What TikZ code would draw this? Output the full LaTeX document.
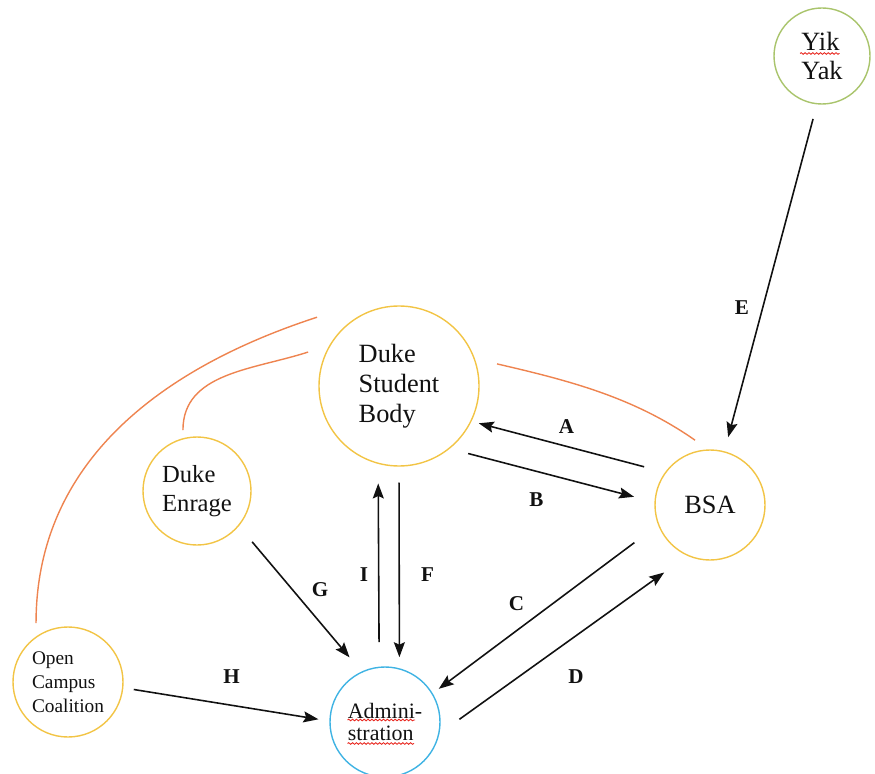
\documentclass[tikz,border=0pt]{standalone}
\usepackage{fontspec}
\setmainfont{Liberation Serif}
\usepackage{tikz}
\usetikzlibrary{arrows.meta, calc, decorations.pathmorphing}
\definecolor{ringyellow}{HTML}{F2C445}
\definecolor{ringblue}{HTML}{3FB3E3}
\definecolor{ringgreen}{HTML}{A9C46C}
\definecolor{tieorange}{HTML}{EE8450}
\definecolor{inkprimary}{HTML}{111111}
\definecolor{spellred}{HTML}{E8261E}

\begin{document}
\begin{tikzpicture}[
  party/.style={circle, draw=ringyellow, line width=0.8pt, align=left, inner sep=0pt, text=inkprimary},
  flow/.style={-{Stealth[length=3mm,width=2.2mm,inset=0.5mm]}, line width=0.9pt, inkprimary},
  tie/.style={draw=tieorange, line width=0.8pt},
  lbl/.style={font=\bfseries\fontsize{12}{14}\selectfont, text=inkprimary},
  spell/.style={draw=spellred, line width=0.5pt, decorate, decoration={snake, amplitude=0.45pt, segment length=2.2pt}}
]
\useasboundingbox (0,0) rectangle (17.5,-15.48);

\node[party, draw=ringgreen, minimum size=1.92cm, font=\fontsize{15}{16.5}\selectfont] (yik) at (16.44,-1.12) {Yik\\Yak};
\node[party, minimum size=3.2cm, font=\fontsize{15}{17}\selectfont] (dsb) at (7.98,-7.72) {Duke\\Student\\Body};
\node[party, minimum size=2.2cm, font=\fontsize{15}{17}\selectfont] (bsa) at (14.2,-10.1) {BSA};
\node[party, minimum size=2.16cm, font=\fontsize{14}{16.5}\selectfont] (enr) at (3.94,-9.82) {Duke\\Enrage};
\node[party, minimum size=2.2cm, font=\fontsize{11}{13.5}\selectfont] (occ) at (1.36,-13.64) {Open\\Campus\\Coalition};
\node[party, draw=ringblue, minimum size=2.2cm, font=\fontsize{12.5}{13}\selectfont] (adm) at (7.7,-14.44) {Admini-\\stration};

\draw[spell] ($(yik)+(-0.44,0.05)$) -- ($(yik)+(0.35,0.05)$);
\draw[spell] ($(adm)+(-0.75,0.04)$) -- ($(adm)+(0.6,0.04)$);
\draw[spell] ($(adm)+(-0.75,-0.43)$) -- ($(adm)+(0.58,-0.43)$);

\draw[tie] ($(dsb)+(140:2.14)$) to[out=198, in=90] ($(occ)+(118.5:1.34)$);
\draw[tie] ($(dsb)+(159.5:1.94)$) to[out=198, in=90] ($(enr)+(103:1.25)$);
\draw[tie] ($(dsb)+(12.7:2.01)$) to[out=-13, in=145, looseness=0.9] ($(bsa)+(103:1.33)$);

\draw[flow, shorten <=0.43cm, shorten >=0.15cm] (bsa.144) -- (dsb.-26);
\draw[flow, shorten <=0.38cm, shorten >=0.42cm] (dsb.-51) -- (bsa.177);
\draw[flow, shorten <=0.59cm, shorten >=0.15cm] (bsa.201) -- (adm.31);
\draw[flow, shorten <=0.49cm, shorten >=0.57cm] (adm.-12) -- (bsa.246);
\draw[flow, shorten <=0.30cm, shorten >=0.29cm] (yik.264) -- (bsa.75);
\draw[flow, shorten <=0.32cm, shorten >=0.22cm] (dsb.270) -- (adm.75);
\draw[flow, shorten <=0.49cm, shorten >=0.39cm] (adm.96) -- (dsb.255.5);
\draw[flow, shorten <=0.41cm, shorten >=0.37cm] (enr.-40) -- (adm.115);
\draw[flow, shorten <=0.21cm, shorten >=0.22cm] (occ.-6) -- (adm.179);

\node[lbl] (la) at (11.33,-8.53) {A};
\node[lbl] (lb) at (10.73,-10.0) {B};
\node[lbl] (lc) at (10.33,-12.08) {C};
\node[lbl] (ld) at (11.52,-13.53) {D};
\node[lbl] (le) at (14.84,-6.16) {E};
\node[lbl] (lf) at (8.55,-11.5) {F};
\node[lbl] (lg) at (6.4,-11.8) {G};
\node[lbl] (lh) at (4.63,-13.53) {H};
\node[lbl] (li) at (7.28,-11.5) {I};
\end{tikzpicture}
\end{document}
